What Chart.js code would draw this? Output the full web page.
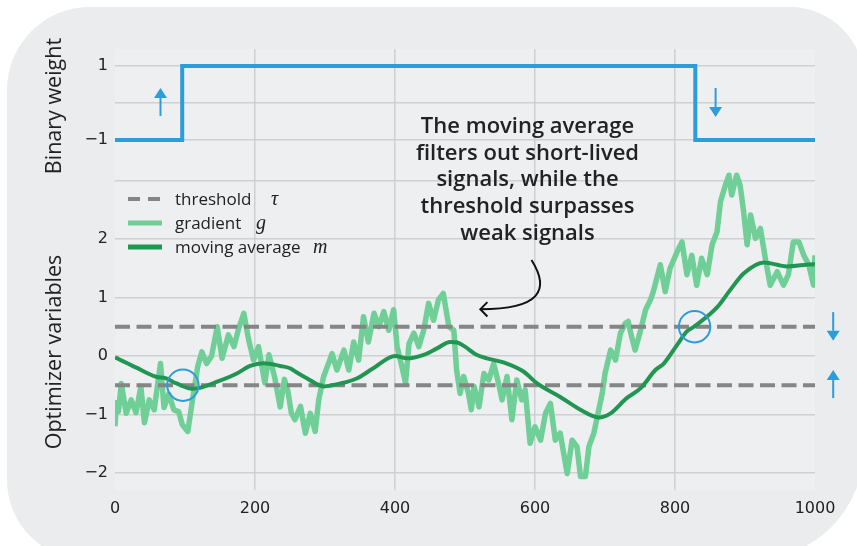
<!DOCTYPE html>
<html>
<head>
<meta charset="utf-8">
<script src="https://cdn.jsdelivr.net/npm/chart.js@4.4.1/dist/chart.umd.min.js"></script>
<style>
  html, body { margin: 0; padding: 0; background: #fff; overflow: hidden; }
  #wrap { position: relative; width: 857px; height: 546px; overflow: hidden; }
  #card {
    position: absolute; left: 7px; top: 7px; width: 857px; height: 553px;
    background: #ebecee; border-radius: 83px 74px 112px 80px;
  }
  #chart { position: absolute; left: 0; top: 0; }
  .txt { position: absolute; font-family: "Open Sans", sans-serif; color: #222; white-space: nowrap; }
  .ytitle { font-size: 21.5px; transform: translate(-50%, -50%) rotate(-90deg); }
  .leg { font-size: 17px; line-height: 24px; }
  .m { position: absolute; font-family: "Liberation Serif", serif; font-style: italic; font-size: 20px; line-height: 24px; }
  #note {
    left: 397px; top: 111px; width: 261px; text-align: center;
    font-size: 22px; font-weight: 600; line-height: 26.7px;
  }
</style>
</head>
<body>
<div id="wrap">
  <div id="card"></div>
  <canvas id="chart" width="857" height="546"></canvas>
  <div class="txt ytitle" style="left:52px; top:106px;">Binary weight</div>
  <div class="txt ytitle" style="left:52px; top:352px;">Optimizer variables</div>
  <div class="txt leg" style="left:175px; top:187px;">threshold</div>
  <div class="txt m" style="left:271px; top:186px;">τ</div>
  <div class="txt leg" style="left:175px; top:211px;">gradient</div>
  <div class="txt m" style="left:256px; top:210px;">g</div>
  <div class="txt leg" style="left:175px; top:235px;">moving average</div>
  <div class="txt m" style="left:313px; top:234px;">m</div>
  <div class="txt" id="note">The moving average<br>filters out short-lived<br>signals, while the<br>threshold surpasses<br>weak signals</div>
</div>
<script>
// values
const xMin = 0, xMax = 1000;
const xTicks = [0, 200, 400, 600, 800, 1000];

// top panel: binary weight (step function)
const binSteps = [0, 96, 829, 1000];
const binValues = [-1, 1, -1, -1];
const binTicks = [-1, 0, 1];
const binTickLabels = ["\u22121", "", "1"];

// bottom panel: noisy gradient
const gradSteps = [0, 2, 5, 9, 16, 23, 30, 37, 42, 49, 56, 65, 70, 77, 84, 91, 96, 104, 110, 118,
  124, 131, 138, 146, 153, 162, 170, 176, 184, 191, 198, 205, 214, 220, 228, 236, 242, 247, 252, 257,
  265, 272, 279, 286, 291, 298, 305, 310, 317, 327, 334, 341, 348, 355, 362, 370, 377, 384, 391, 398,
  403, 410, 415, 420, 427, 434, 441, 448, 455, 462, 469, 477, 484, 488, 493, 498, 505, 509, 513, 520,
  527, 534, 541, 548, 553, 560, 567, 574, 581, 586, 593, 600, 608, 615, 622, 629, 636, 646, 653, 660,
  665, 672, 677, 684, 689, 696, 700, 708, 715, 722, 729, 733, 738, 743, 750, 758, 765, 769, 779, 786,
  793, 803, 810, 817, 824, 831, 838, 846, 853, 860, 865, 872, 877, 881, 888, 893, 898, 903, 908, 915,
  922, 929, 936, 946, 955, 962, 969, 977, 984, 991, 998, 1000];
const gradValues = [-1.2, -0.8, -0.95, -0.47, -0.98, -0.75, -0.97, -0.52, -1.14, -0.75, -0.92, -0.13, -0.88, -0.65, -0.92, -0.95, -1.17, -1.29, -0.81, -0.19,
  0.07, -0.13, 0.0, 0.5, -0.04, 0.36, 0.16, 0.44, 0.73, 0.27, -0.07, 0.16, -0.46, 0.02, -0.36, -0.87, -0.40, -0.6, -0.98, -1.09,
  -0.86, -1.32, -0.98, -1.29, -0.75, -0.35, -0.13, 0.04, -0.24, 0.1, -0.24, 0.24, -0.07, 0.67, 0.24, 0.73, 0.50, 0.76, 0.44, 0.79,
  0.16, -0.19, -0.46, 0.21, 0.39, 0.16, 0.44, 0.9, 0.61, 0.96, 1.07, 0.5, 0.44, -0.24, -0.64, -0.35, -0.64, -0.92, -0.52, -0.87,
  -0.30, -0.41, -0.13, -0.47, -0.75, -0.35, -1.09, -0.41, -0.75, -0.58, -1.49, -1.21, -1.44, -0.98, -0.81, -1.44, -1.32, -2.01, -1.44, -1.55,
  -2.06, -2.06, -1.55, -1.32, -1.04, -0.64, -0.30, 0.10, -0.07, 0.39, 0.56, 0.59, 0.33, 0.10, 0.40, 0.79, 0.96, 1.10, 1.56, 1.10,
  1.50, 1.78, 1.95, 1.39, 1.72, 1.21, 1.67, 1.39, 1.90, 2.12, 2.64, 2.92, 3.09, 2.75, 3.09, 2.92, 2.47, 1.90, 2.41, 2.01,
  2.18, 1.67, 1.21, 1.44, 1.21, 1.39, 1.95, 1.95, 1.72, 1.56, 1.21, 1.72];

// bottom panel: moving average
const avgSteps = [0, 3, 29, 60, 72, 88, 110, 119, 146, 174, 193, 212, 236, 250, 258, 274, 298, 322, 346, 369,
  400, 417, 441, 460, 479, 489, 500, 515, 531, 555, 584, 603, 636, 665, 691, 708, 731, 751, 772, 784,
  803, 817, 827, 860, 879, 898, 927, 960, 998, 1000];
const avgValues = [-0.02, -0.04, -0.19, -0.36, -0.38, -0.47, -0.56, -0.55, -0.44, -0.30, -0.17, -0.125, -0.17, -0.21, -0.27, -0.38, -0.52, -0.47, -0.38, -0.21,
  0.0, -0.04, 0.02, 0.13, 0.24, 0.23, 0.16, 0.03, -0.04, -0.11, -0.27, -0.47, -0.70, -0.92, -1.05, -0.98, -0.72, -0.55, -0.24, -0.13,
  0.19, 0.42, 0.50, 0.83, 1.13, 1.41, 1.60, 1.53, 1.57, 1.56];

const thresholds = [0.5, -0.5];
const optTicks = [-2, -1, 0, 1, 2, 3];
const optTickLabels = ["\u22122", "\u22121", "0", "1", "2", ""];

const BLUE = "#2d9cdb";
const GREEN = "#219653";
const LIGHT = "#6fcf97";
const GRAY = "#858585";
const GRID = "#cfd0d3";
const PLOT_BG = "#eeeff1";

const pts = (xs, ys) => xs.map((x, i) => ({ x: x, y: ys[i] }));

// blue arrow from tail to tip (pixels)
function blueArrow(ctx, x, y0, y1) {
  const dir = Math.sign(y1 - y0);
  const headLen = 10, headW = 6.5;
  ctx.strokeStyle = BLUE;
  ctx.fillStyle = BLUE;
  ctx.lineWidth = 2;
  ctx.beginPath();
  ctx.moveTo(x, y0);
  ctx.lineTo(x, y1 - dir * headLen);
  ctx.stroke();
  ctx.beginPath();
  ctx.moveTo(x, y1);
  ctx.lineTo(x - headW, y1 - dir * headLen);
  ctx.lineTo(x + headW, y1 - dir * headLen);
  ctx.closePath();
  ctx.fill();
}

const decor = {
  id: "decor",
  beforeDraw(chart) {
    const { ctx, chartArea: a } = chart;
    ctx.save();
    ctx.fillStyle = PLOT_BG;
    ctx.fillRect(a.left, a.top, a.width, a.height);
    ctx.restore();
  },
  afterDatasetsDraw(chart) {
    const { ctx, chartArea: a } = chart;
    const sx = chart.scales.x, sb = chart.scales.yBin, so = chart.scales.yOpt;
    const X = (v) => sx.getPixelForValue(v);
    ctx.save();

    // circles where the moving average crosses the threshold
    ctx.strokeStyle = BLUE;
    ctx.lineWidth = 2;
    [[97, -0.5], [828, 0.5]].forEach(([cx, cy]) => {
      ctx.beginPath();
      ctx.arc(X(cx), so.getPixelForValue(cy), 15.7, 0, Math.PI * 2);
      ctx.stroke();
    });

    // flip arrows
    blueArrow(ctx, X(65), sb.getPixelForValue(-0.35), sb.getPixelForValue(0.405));
    blueArrow(ctx, X(858), sb.getPixelForValue(0.405), sb.getPixelForValue(-0.38));
    blueArrow(ctx, X(1026), so.getPixelForValue(0.75), so.getPixelForValue(0.26));
    blueArrow(ctx, X(1026), so.getPixelForValue(-0.72), so.getPixelForValue(-0.24));

    // curved black arrow under the note
    ctx.strokeStyle = "#111";
    ctx.lineWidth = 2;
    ctx.beginPath();
    ctx.moveTo(X(595), so.getPixelForValue(1.64));
    ctx.bezierCurveTo(X(622), so.getPixelForValue(1.13), X(607.6), so.getPixelForValue(0.80), X(521.9), so.getPixelForValue(0.80));
    ctx.stroke();
    ctx.beginPath();
    ctx.moveTo(X(532), so.getPixelForValue(0.92));
    ctx.lineTo(X(521.9), so.getPixelForValue(0.80));
    ctx.lineTo(X(532), so.getPixelForValue(0.675));
    ctx.stroke();

    // legend samples
    const lx0 = a.left + 13, lx1 = a.left + 47;
    ctx.lineWidth = 4;
    ctx.strokeStyle = GRAY;
    ctx.setLineDash([12, 8]);
    ctx.beginPath(); ctx.moveTo(lx0, 199); ctx.lineTo(lx1 + 2, 199); ctx.stroke();
    ctx.setLineDash([]);
    ctx.lineWidth = 5;
    ctx.strokeStyle = LIGHT;
    ctx.beginPath(); ctx.moveTo(lx0, 223); ctx.lineTo(lx1, 223); ctx.stroke();
    ctx.strokeStyle = GREEN;
    ctx.beginPath(); ctx.moveTo(lx0, 247); ctx.lineTo(lx1, 247); ctx.stroke();
    ctx.restore();
  },
};

const tickFont = { family: "DejaVu Sans", size: 16 };

new Chart(document.getElementById("chart"), {
  type: "line",
  data: {
    datasets: [
      { label: "moving average", data: pts(avgSteps, avgValues), yAxisID: "yOpt",
        borderColor: GREEN, borderWidth: 4, pointRadius: 0, cubicInterpolationMode: "monotone" },
      ...thresholds.map((t) => ({ label: "threshold", data: pts([xMin, xMax], [t, t]), yAxisID: "yOpt",
        borderColor: GRAY, borderWidth: 4, borderDash: [15, 6.5], pointRadius: 0 })),
      { label: "gradient", data: pts(gradSteps, gradValues), yAxisID: "yOpt",
        borderColor: LIGHT, borderWidth: 5.5, pointRadius: 0, borderJoinStyle: "round" },
      { label: "binary weight", data: pts(binSteps, binValues), yAxisID: "yBin",
        borderColor: BLUE, borderWidth: 4, pointRadius: 0, stepped: true },
    ],
  },
  options: {
    responsive: false,
    animation: false,
    devicePixelRatio: 1,
    layout: { padding: { left: 0, top: 49, right: 42, bottom: 0 } },
    plugins: { legend: { display: false }, tooltip: { enabled: false } },
    scales: {
      x: {
        type: "linear", min: xMin, max: xMax,
        afterBuildTicks: (s) => { s.ticks = xTicks.map((v) => ({ value: v })); },
        afterFit: (s) => { s.height = 56; },
        grid: { color: (c) => (c.tick && (c.tick.value === xMin || c.tick.value === xMax)) ? "rgba(0,0,0,0)" : GRID,
                lineWidth: 1.5, drawTicks: false },
        border: { display: false },
        ticks: { padding: 9, color: "#222", font: tickFont, autoSkip: false, maxRotation: 0,
                 callback: (v) => String(v) },
      },
      yOpt: {
        type: "linear", position: "left", stack: "v", stackWeight: 330,
        min: -2.291, max: 3.35,
        afterBuildTicks: (s) => { s.ticks = optTicks.map((v) => ({ value: v })); },
        afterFit: (s) => { s.width = 115; },
        grid: { color: GRID, lineWidth: 1.5, drawTicks: false },
        border: { display: false },
        ticks: { padding: 7, color: "#222", font: tickFont,
                 callback: (v) => optTickLabels[optTicks.indexOf(v)] },
      },
      yBin: {
        type: "linear", position: "left", stack: "v", stackWeight: 111,
        min: -1.54, max: 1.46,
        afterBuildTicks: (s) => { s.ticks = binTicks.map((v) => ({ value: v })); },
        afterFit: (s) => { s.width = 115; },
        grid: { color: GRID, lineWidth: 1.5, drawTicks: false },
        border: { display: false },
        ticks: { padding: 7, color: "#222", font: tickFont,
                 callback: (v) => binTickLabels[binTicks.indexOf(v)] },
      },
    },
  },
  plugins: [decor],
});
</script>
</body>
</html>
